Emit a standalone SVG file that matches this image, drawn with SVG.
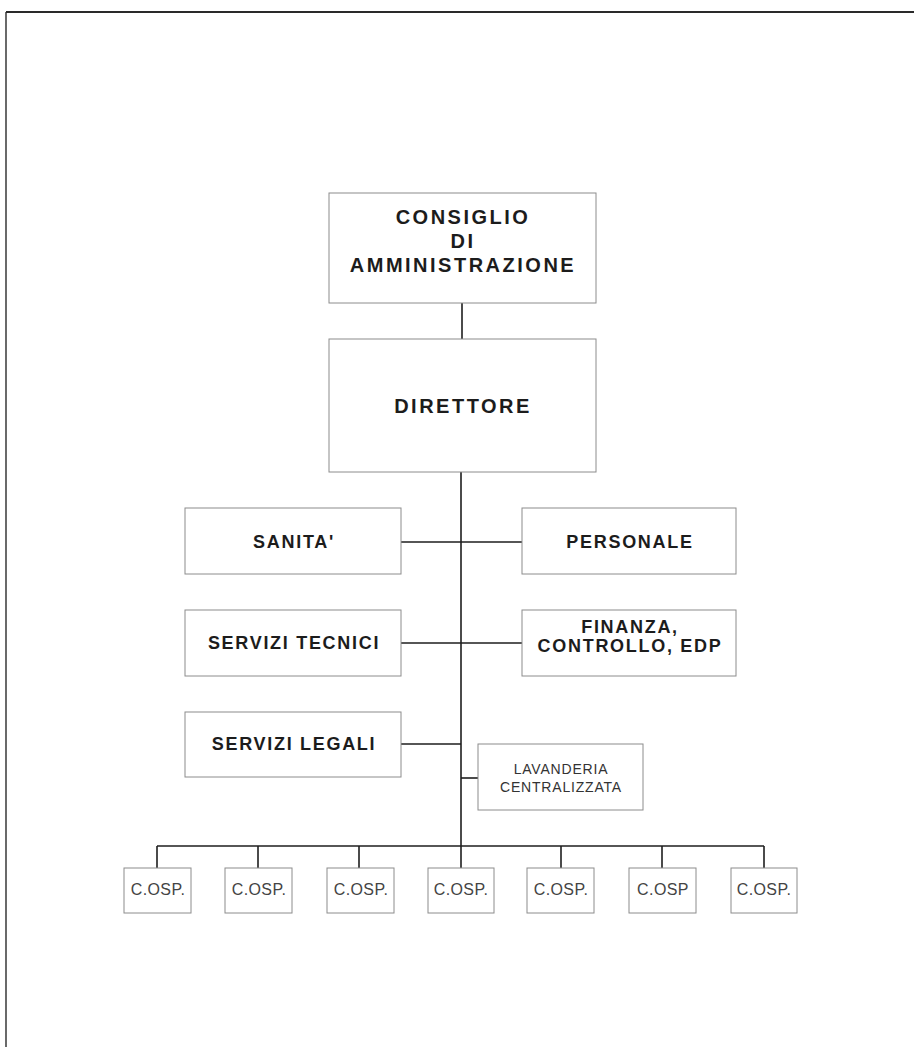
<svg xmlns="http://www.w3.org/2000/svg" width="914" height="1047" viewBox="0 0 914 1047">
  <style>
    .box { fill: #fff; stroke: #8c8c8c; stroke-width: 1; }
    .link { fill: none; stroke: #1e1e1e; stroke-width: 1.6; }
    .frame { fill: none; stroke: #2a2a2a; }
    .top { font-family: "Liberation Sans", Arial, sans-serif; font-weight: bold; font-size: 20px; letter-spacing: 2.5px; fill: #1c1c1c; text-anchor: middle; }
    .dept { font-family: "Liberation Sans", Arial, sans-serif; font-weight: bold; font-size: 18px; letter-spacing: 1.7px; fill: #1c1c1c; text-anchor: middle; }
    .small { font-family: "Liberation Sans", Arial, sans-serif; font-size: 14px; letter-spacing: 0.8px; fill: #333; text-anchor: middle; }
    .osp { font-family: "Liberation Sans", Arial, sans-serif; font-size: 16px; letter-spacing: 0.4px; fill: #444; text-anchor: middle; }
  </style>

  <rect width="914" height="1047" fill="#fff"/>

  <!-- page frame: top rule and left edge -->
  <g id="frame">
    <line class="frame" x1="6" y1="12" x2="914" y2="12" stroke-width="2"/>
    <line class="frame" x1="6" y1="12" x2="6" y2="1047" stroke-width="1.4"/>
  </g>

  <!-- connectors -->
  <g id="connectors">
    <line class="link" x1="462" y1="303" x2="462" y2="339"/>
    <line class="link" x1="461" y1="472" x2="461" y2="868"/>
    <line class="link" x1="401" y1="542" x2="522" y2="542"/>
    <line class="link" x1="401" y1="643" x2="522" y2="643"/>
    <line class="link" x1="401" y1="744" x2="461" y2="744"/>
    <line class="link" x1="461" y1="778" x2="478" y2="778"/>
    <line class="link" x1="157" y1="846" x2="764" y2="846"/>
    <line class="link" x1="157" y1="846" x2="157" y2="868"/>
    <line class="link" x1="258" y1="846" x2="258" y2="868"/>
    <line class="link" x1="359" y1="846" x2="359" y2="868"/>
    <line class="link" x1="561" y1="846" x2="561" y2="868"/>
    <line class="link" x1="662" y1="846" x2="662" y2="868"/>
    <line class="link" x1="764" y1="846" x2="764" y2="868"/>
  </g>

  <g id="consiglio">
    <rect class="box" x="329" y="193" width="267" height="110"/>
    <text class="top" x="463" y="224">CONSIGLIO</text>
    <text class="top" x="463" y="248">DI</text>
    <text class="top" x="463" y="272">AMMINISTRAZIONE</text>
  </g>

  <g id="direttore">
    <rect class="box" x="329" y="339" width="267" height="133"/>
    <text class="top" x="463" y="413">DIRETTORE</text>
  </g>

  <g id="sanita">
    <rect class="box" x="185" y="508" width="216" height="66"/>
    <text class="dept" x="294" y="548">SANITA'</text>
  </g>

  <g id="personale">
    <rect class="box" x="522" y="508" width="214" height="66"/>
    <text class="dept" x="630" y="548">PERSONALE</text>
  </g>

  <g id="servizi-tecnici">
    <rect class="box" x="185" y="610" width="216" height="66"/>
    <text class="dept" x="294" y="649">SERVIZI TECNICI</text>
  </g>

  <g id="finanza">
    <rect class="box" x="522" y="610" width="214" height="66"/>
    <text class="dept" x="630" y="633">FINANZA,</text>
    <text class="dept" x="630" y="652">CONTROLLO, EDP</text>
  </g>

  <g id="servizi-legali">
    <rect class="box" x="185" y="712" width="216" height="65"/>
    <text class="dept" x="294" y="750">SERVIZI LEGALI</text>
  </g>

  <g id="lavanderia">
    <rect class="box" x="478" y="744" width="165" height="66"/>
    <text class="small" x="561" y="774">LAVANDERIA</text>
    <text class="small" x="561" y="792">CENTRALIZZATA</text>
  </g>

  <!-- hospital units along the bottom bus -->
  <g id="cosp-1">
    <rect class="box" x="124" y="868" width="67" height="45"/>
    <text class="osp" x="158" y="895">C.OSP.</text>
  </g>
  <g id="cosp-2">
    <rect class="box" x="225" y="868" width="67" height="45"/>
    <text class="osp" x="259" y="895">C.OSP.</text>
  </g>
  <g id="cosp-3">
    <rect class="box" x="327" y="868" width="67" height="45"/>
    <text class="osp" x="361" y="895">C.OSP.</text>
  </g>
  <g id="cosp-4">
    <rect class="box" x="428" y="868" width="66" height="45"/>
    <text class="osp" x="461" y="895">C.OSP.</text>
  </g>
  <g id="cosp-5">
    <rect class="box" x="527" y="868" width="67" height="45"/>
    <text class="osp" x="561" y="895">C.OSP.</text>
  </g>
  <g id="cosp-6">
    <rect class="box" x="629" y="868" width="67" height="45"/>
    <text class="osp" x="663" y="895">C.OSP</text>
  </g>
  <g id="cosp-7">
    <rect class="box" x="731" y="868" width="66" height="45"/>
    <text class="osp" x="764" y="895">C.OSP.</text>
  </g>
</svg>
